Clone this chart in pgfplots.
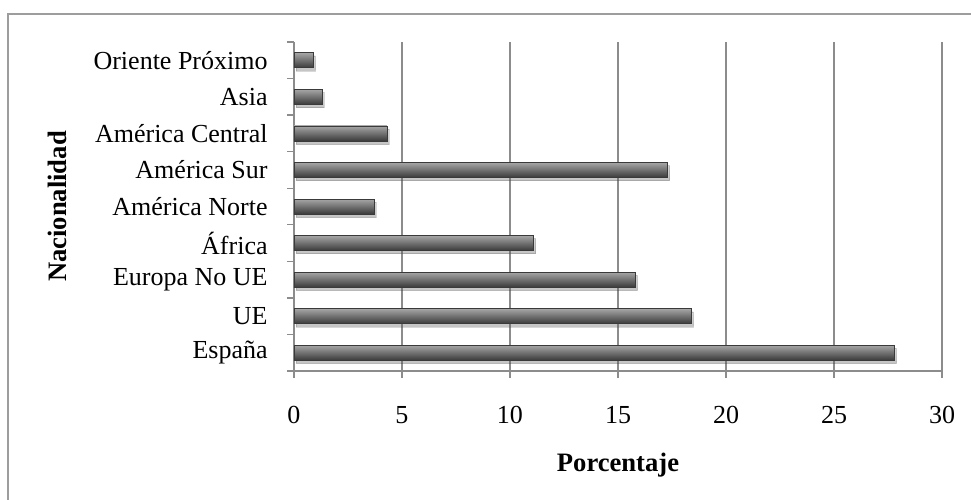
\documentclass[border=0pt]{standalone}
\usepackage{fontspec}
\setmainfont{Liberation Serif}
\usepackage{pgfplots}
\pgfplotsset{compat=1.18}
\usetikzlibrary{shadows}
\definecolor{gridgray}{HTML}{8C8C8C}
\definecolor{bartop}{HTML}{A6A6A6}
\definecolor{barmid}{HTML}{626262}
\definecolor{barbot}{HTML}{3A3A3A}
% one bar per \addplot so that the shading fits each bar
\pgfplotsset{barsty/.style={draw=barbot, line width=0.3bp,
  top color=bartop, middle color=barmid, bottom color=barbot,
  drop shadow={shadow xshift=1bp, shadow yshift=-1.6bp, opacity=0.2}}}

\begin{document}
\begin{tikzpicture}
\useasboundingbox (-147bp,-64.5bp) rectangle (338.5bp,185.5bp);
% outer chart frame (only left and top edges fall inside the page)
\draw[gridgray!85, line width=1bp] (-143bp,-80bp) -- (-143bp,178.5bp) -- (350bp,178.5bp);
\begin{axis}[
  at={(0,0)}, anchor=south west,
  scale only axis, width=324bp, height=164.5bp,
  xbar, bar width=7.5bp, bar shift=0pt,
  xmin=0, xmax=30, ymin=-0.5, ymax=8.5,
  xtick={0,5,...,30},
  ytick={-0.5,0.5,...,8.5}, yticklabels={},
  extra y ticks={0,1,2,3,4,5,6,7,8},
  extra y tick labels={España,UE,Europa No UE,África,América Norte,América Sur,América Central,Asia,Oriente Próximo},
  extra y tick style={major tick length=0pt},
  axis x line*=bottom, axis y line*=left,
  axis line style={draw=gridgray, line width=0.65bp},
  tick align=outside,
  major tick length=3.5bp,
  every tick/.style={draw=gridgray, line width=0.65bp},
  xmajorgrids,
  grid style={draw=gridgray, line width=0.65bp},
  /pgf/number format/assume math mode=true,
  ticklabel style={font=\fontsize{13bp}{15bp}\selectfont},
  xticklabel style={anchor=base, yshift=-22.5bp},
  yticklabel style={anchor=east, inner sep=0pt, xshift=-13bp},
  xlabel={\textbf{Porcentaje}},
  ylabel={\textbf{Nacionalidad}},
  label style={font=\fontsize{13.3bp}{15bp}\selectfont},
  xlabel style={at={([yshift=-50bp]axis description cs:0.5,0)}, anchor=base},
  ylabel style={at={([xshift=-113.5bp]axis description cs:0,0.5)}, anchor=base, rotate=0},
]
\addplot[barsty] coordinates {(27.8,0)};
\addplot[barsty] coordinates {(18.4,1)};
\addplot[barsty] coordinates {(15.8,2)};
\addplot[barsty] coordinates {(11.1,3)};
\addplot[barsty] coordinates {(3.7,4)};
\addplot[barsty] coordinates {(17.3,5)};
\addplot[barsty] coordinates {(4.3,6)};
\addplot[barsty] coordinates {(1.3,7)};
\addplot[barsty] coordinates {(0.9,8)};
\end{axis}
\end{tikzpicture}
\end{document}
